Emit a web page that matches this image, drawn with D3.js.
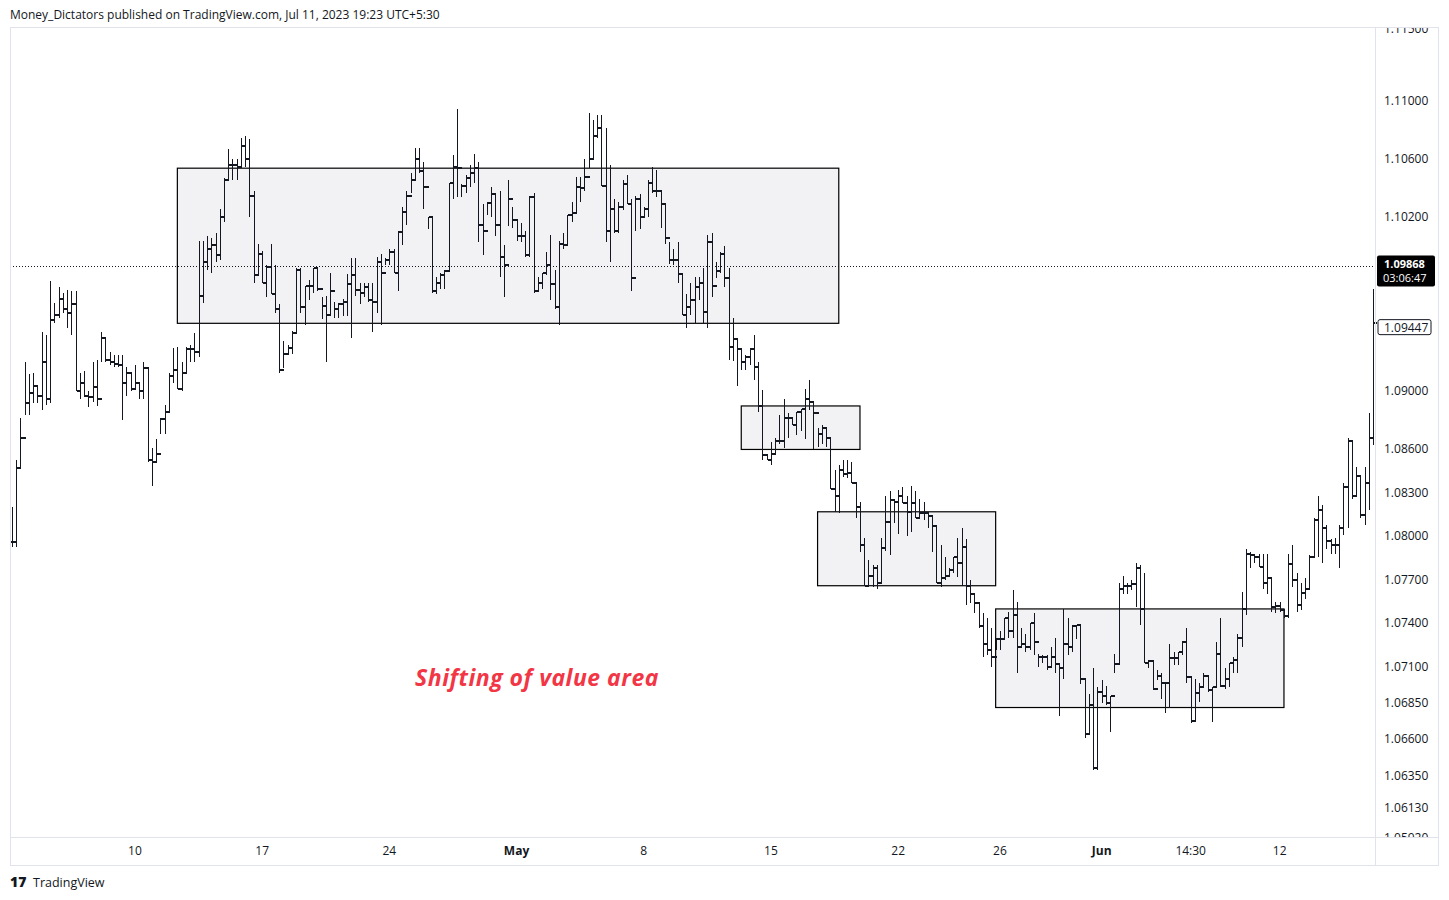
<!DOCTYPE html>
<html><head><meta charset="utf-8">
<script src="https://cdn.jsdelivr.net/npm/d3@7"></script>
<style>body{margin:0;background:#fff;font-family:"Open Sans","Noto Sans",sans-serif;}</style>
</head><body><svg id="c" width="1449" height="900"></svg>
<script>
// Prices in units of 0.0001 (e.g. 10820 = 1.0820)
const highs=[10820,10853,10882,10920,10912,10913,10904,10941,10939,10976,10961,10972,10968,10970,10969,10969,10913,10914,10900,10920,10922,10941,10937,10927,10925,10925,10925,10917,10913,10918,10906,10920,10916,10861,10867,10882,10891,10913,10930,10931,10920,10931,10932,10940,11004,11004,11007,11006,11009,11026,11047,11067,11060,11060,11075,11076,11074,11038,11002,10997,10987,11002,10987,10960,10935,10932,10942,10985,10985,10973,10977,10985,10986,10965,10966,10982,10962,10961,10964,10981,10992,10992,10975,10975,10975,10975,10993,10995,10992,10998,10998,11011,11027,11038,11051,11068,11068,11058,11020,11020,10979,10982,10984,11044,11063,11095,11043,11049,11056,11064,11058,11029,11031,11041,11036,11038,11001,11046,11027,11019,11016,11011,11035,11037,10979,10982,10996,11008,10984,11004,11009,11022,11031,11048,11048,11060,11092,11087,11091,11091,11082,11056,11033,11031,11046,11049,11033,11035,11036,11027,11046,11055,11053,11039,11029,11003,10998,11003,10981,10967,10975,10979,10979,10985,11008,11009,10989,10996,11000,10985,10951,10936,10929,10925,10930,10939,10920,10901,10856,10865,10868,10884,10895,10885,10882,10886,10888,10902,10908,10893,10875,10877,10875,10868,10846,10849,10853,10853,10851,10837,10824,10799,10784,10780,10780,10799,10828,10831,10826,10832,10834,10828,10835,10831,10826,10824,10817,10815,10807,10794,10786,10778,10786,10799,10806,10798,10770,10760,10754,10747,10744,10737,10730,10735,10744,10748,10763,10755,10737,10733,10740,10747,10719,10718,10718,10724,10730,10712,10750,10744,10739,10739,10739,10702,10691,10709,10696,10701,10697,10690,10719,10768,10773,10768,10770,10782,10780,10775,10715,10714,10708,10706,10699,10726,10720,10720,10728,10737,10703,10702,10699,10706,10704,10696,10727,10744,10709,10713,10717,10733,10762,10791,10789,10788,10788,10788,10788,10771,10755,10755,10750,10788,10794,10775,10768,10771,10787,10813,10828,10822,10808,10798,10799,10808,10837,10868,10866,10848,10842,10848,10885,10971];
const lows=[10793,10793,10847,10884,10884,10892,10892,10887,10891,10892,10947,10951,10954,10944,10939,10900,10895,10896,10889,10893,10890,10920,10920,10918,10917,10917,10880,10897,10900,10901,10895,10895,10851,10835,10851,10871,10871,10886,10906,10902,10900,10913,10920,10920,10924,10961,10984,10982,10989,10991,11017,11046,11046,11046,11055,11055,11020,10975,10980,10975,10965,10967,10954,10913,10916,10926,10926,10940,10954,10946,10963,10968,10969,10950,10920,10953,10951,10951,10952,10952,10937,10966,10960,10965,10962,10941,10954,10946,10987,10987,10982,10969,11001,11015,11037,11046,11051,11026,11012,10968,10967,10971,10971,10983,11033,11034,11034,11037,11041,11044,11003,10994,11022,11020,11007,10979,10965,11014,11013,11004,11003,10993,10993,10968,10969,10971,10980,10963,10957,10946,10998,11001,11017,11024,11031,11038,11054,11060,11075,11042,11003,10989,11009,11009,11025,11029,10969,11011,11012,11020,11020,11037,11034,11013,11002,10988,10987,10975,10953,10944,10953,10947,10963,10947,10944,10965,10978,10982,10972,10922,10921,10904,10915,10915,10918,10908,10886,10853,10853,10849,10856,10864,10861,10868,10877,10870,10873,10867,10887,10860,10862,10864,10862,10833,10817,10816,10841,10840,10837,10813,10789,10766,10766,10765,10764,10768,10790,10787,10809,10802,10823,10800,10803,10813,10813,10811,10806,10789,10768,10765,10770,10772,10775,10772,10766,10753,10754,10747,10737,10717,10718,10710,10722,10722,10729,10730,10730,10706,10723,10720,10722,10718,10710,10713,10708,10709,10706,10676,10702,10718,10720,10729,10698,10661,10663,10639,10639,10685,10684,10665,10706,10712,10760,10760,10763,10751,10739,10713,10709,10694,10701,10688,10678,10682,10711,10711,10718,10699,10671,10673,10686,10696,10693,10672,10696,10696,10695,10696,10706,10706,10724,10746,10778,10782,10779,10764,10760,10748,10747,10748,10744,10744,10765,10748,10749,10757,10764,10786,10786,10782,10791,10788,10788,10778,10801,10806,10826,10827,10813,10808,10818,10863];
const closes=[10796,10847,10868,10892,10899,10904,10897,10920,10895,10949,10953,10964,10957,10954,10960,10900,10906,10897,10896,10903,10895,10937,10922,10920,10919,10918,10906,10913,10902,10906,10900,10916,10853,10851,10857,10881,10886,10911,10915,10902,10913,10929,10929,10927,10966,10989,10998,11001,10994,11020,11046,11056,11056,11055,11069,11060,11035,10980,10995,10975,10986,10967,10957,10915,10926,10930,10940,10984,10958,10973,10973,10985,10971,10959,10953,10969,10957,10960,10962,10974,10980,10970,10968,10972,10963,10962,10989,10982,10991,10996,10982,11010,11024,11035,11046,11060,11052,11041,11020,10969,10975,10980,10983,11044,11055,11054,11042,11047,11051,11054,11015,11011,11030,11036,11015,10993,10987,11033,11018,11007,11007,10994,11034,10969,10975,10982,10987,10974,10958,11002,11001,11022,11023,11041,11040,11048,11060,11076,11082,11042,11011,11026,11011,11027,11043,11029,10978,11033,11020,11026,11044,11038,11038,11029,11006,10991,10991,10981,10953,10958,10963,10972,10975,10955,11003,10973,10983,10995,10978,10931,10936,10929,10920,10924,10929,10917,10890,10856,10853,10857,10866,10866,10882,10882,10877,10886,10888,10895,10893,10885,10871,10875,10868,10833,10828,10846,10843,10844,10837,10820,10794,10766,10773,10778,10768,10792,10810,10825,10824,10828,10823,10817,10823,10813,10816,10816,10814,10807,10768,10771,10773,10777,10786,10782,10793,10766,10760,10754,10738,10726,10722,10717,10729,10729,10744,10735,10746,10724,10726,10724,10740,10727,10717,10717,10710,10717,10712,10709,10726,10724,10738,10739,10702,10664,10684,10640,10693,10690,10685,10690,10712,10764,10766,10766,10767,10778,10750,10713,10714,10695,10704,10699,10699,10716,10716,10720,10727,10703,10673,10692,10696,10704,10694,10696,10719,10697,10702,10713,10715,10730,10750,10788,10787,10786,10779,10768,10771,10751,10752,10749,10745,10781,10770,10753,10761,10764,10786,10811,10818,10806,10797,10794,10794,10806,10834,10866,10828,10842,10815,10837,10868,10947];
const xTickLabels=["10","17","24","May","8","15","22","26","Jun","14:30","12"];
const xTickIndex=[29,59,89,119,149,179,209,233,257,278,299];
const yTickLabels=["1.11500","1.11000","1.10600","1.10200","1.09000","1.08600","1.08300","1.08000","1.07700","1.07400","1.07100","1.06850","1.06600","1.06350","1.06130","1.05920"];
// value-area boxes: [start bar, end bar, top price, bottom price]
const boxStart=[39,172,190,232], boxEnd=[195,200,232,300];
const boxTop=[11054,10890,10817,10750], boxBottom=[10947,10860,10766,10682];
const lastPrice=1.09868, markPrice=1.09447;

const svg=d3.select("#c");
const N=closes.length;
const x=d3.scaleLinear().domain([0,N-1]).range([12,1373]);
const y=d3.scaleLinear().domain([1.0592,1.115]).range([838,29]);
const P=v=>v/10000;
const g=svg.append("g");
svg.append("rect").attr("x",10.5).attr("y",27.5).attr("width",1428).attr("height",838).attr("fill","none").attr("stroke","#e0e3eb");
svg.append("line").attr("x1",10).attr("x2",1439).attr("y1",837.5).attr("y2",837.5).attr("stroke","#e0e3eb");
svg.append("line").attr("x1",1375.5).attr("x2",1375.5).attr("y1",27).attr("y2",865).attr("stroke","#e0e3eb");
boxStart.forEach((s,i)=>{
  g.append("rect").attr("x",x(s)).attr("y",y(P(boxTop[i]))).attr("width",x(boxEnd[i])-x(s))
   .attr("height",y(P(boxBottom[i]))-y(P(boxTop[i]))).attr("fill","#f2f2f4").attr("stroke","#000").attr("stroke-width",1.2);
});
g.append("line").attr("x1",10).attr("x2",1375).attr("y1",Math.round(y(lastPrice))+0.5).attr("y2",Math.round(y(lastPrice))+0.5)
 .attr("stroke","#131722").attr("stroke-dasharray","1,2");
const bars=g.append("g").attr("stroke","#131722").attr("stroke-width",1.2).attr("shape-rendering","crispEdges");
closes.forEach((c,i)=>{
  const o=i>0?closes[i-1]:c;
  const xi=Math.round(x(i))+0.5;
  bars.append("line").attr("x1",xi).attr("x2",xi).attr("y1",y(P(highs[i]))).attr("y2",y(P(lows[i])));
  bars.append("line").attr("x1",xi-3).attr("x2",xi).attr("y1",Math.round(y(P(o)))).attr("y2",Math.round(y(P(o))));
  bars.append("line").attr("x1",xi).attr("x2",xi+3).attr("y1",Math.round(y(P(c)))).attr("y2",Math.round(y(P(c))));
});
svg.append("clipPath").attr("id","cy").append("rect").attr("x",1376).attr("y",28).attr("width",63).attr("height",809);
const yl=svg.append("g").attr("clip-path","url(#cy)").attr("font-size",12).attr("fill","#131722");
yTickLabels.forEach(t=>{ yl.append("text").attr("x",1384).attr("y",y(+t)+4).text(t); });
yl.append("rect").attr("x",1378).attr("y",y(markPrice)-7).attr("width",53).attr("height",15).attr("fill","#fff").attr("stroke","#131722").attr("rx",2);
yl.append("text").attr("x",1384).attr("y",y(markPrice)+5).text("1.09447");
svg.append("rect").attr("x",1377).attr("y",y(lastPrice)-10).attr("width",58).attr("height",31).attr("fill","#000").attr("rx",2);
svg.append("text").attr("x",1384).attr("y",y(lastPrice)+2).attr("fill","#fff").attr("font-size",11).attr("font-weight","bold").text("1.09868");
svg.append("text").attr("x",1383).attr("y",y(lastPrice)+16).attr("fill","#fff").attr("font-size",11).text("03:06:47");
xTickIndex.forEach((ix,i)=>{
  const t=xTickLabels[i];
  svg.append("text").attr("x",x(ix)).attr("y",855).attr("text-anchor","middle").attr("font-size",12).attr("fill","#131722")
   .attr("font-weight",(t==="May"||t==="Jun")?"bold":"normal").text(t);
});
svg.append("text").attr("x",10).attr("y",19).attr("font-size",12).attr("fill","#131722").text("Money_Dictators published on TradingView.com, Jul 11, 2023 19:23 UTC+5:30");
svg.append("text").attr("x",10).attr("y",887).attr("font-size",14).attr("font-weight","900").attr("fill","#131722").text("17");
svg.append("text").attr("x",33).attr("y",887).attr("font-size",12.5).attr("fill","#131722").text("TradingView");
svg.append("text").attr("x",537).attr("y",686).attr("text-anchor","middle").attr("font-size",23).attr("font-style","italic")
 .attr("font-weight","bold").attr("fill","#f23645").attr("letter-spacing","0.5").text("Shifting of value area");
</script></body></html>
